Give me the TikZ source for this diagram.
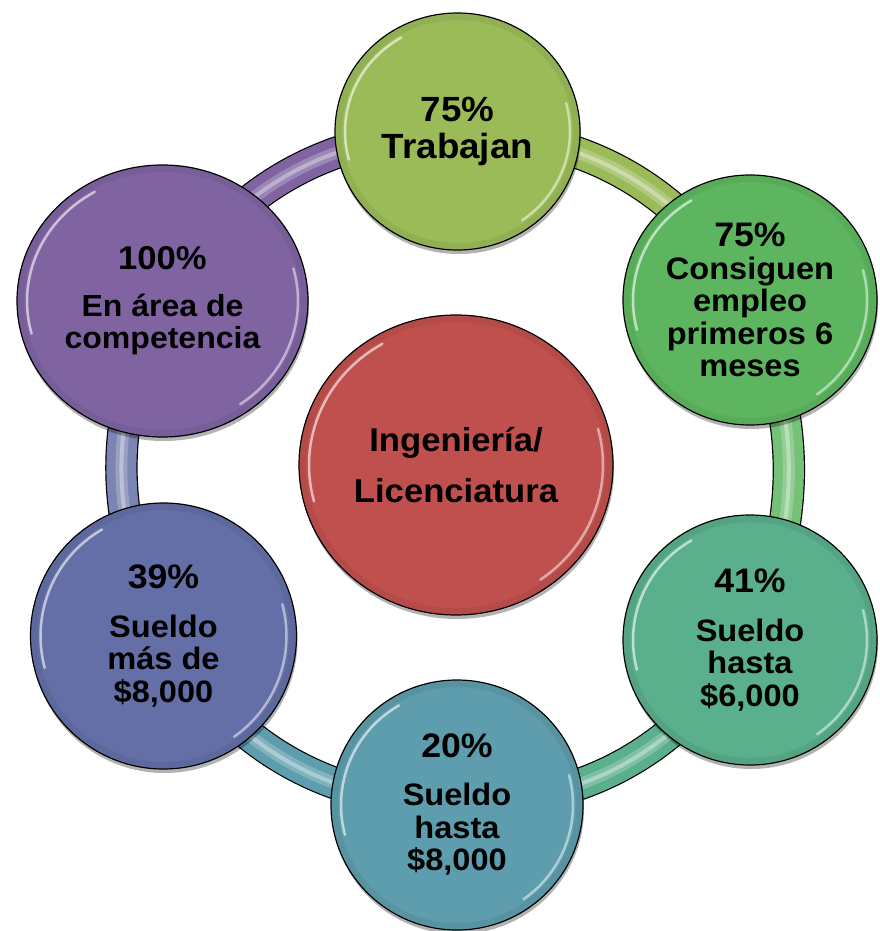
\documentclass[tikz,border=0pt]{standalone}
\usepackage{fontspec}
\setmainfont{Liberation Sans}[FakeStretch=1.05]
\usetikzlibrary{shapes.geometric,shadows}
\pgfdeclarelayer{bg}
\pgfsetlayers{bg,main}
\definecolor{cRed}{HTML}{C0504D}
\definecolor{cTop}{HTML}{9BBB59}
\definecolor{cUR}{HTML}{5DB65F}
\definecolor{cLR}{HTML}{5AAF8C}
\definecolor{cBot}{HTML}{5E9DAD}
\definecolor{cLL}{HTML}{636FA6}
\definecolor{cUL}{HTML}{8064A2}
\newcommand\glow[4]{%
  \draw[black,opacity=.06,line width=6pt] (#1,#2) ellipse [x radius=#3-4, y radius=#4-4];
  \draw[white,opacity=.6,line width=2.5pt,line cap=round]
    plot[domain=165:240,samples=30] ({#1+(#3-10)*cos(\x)},{#2+(#4-10)*sin(\x)});
  \draw[white,opacity=.5,line width=2.5pt,line cap=round]
    plot[domain=-15:55,samples=30] ({#1+(#3-10)*cos(\x)},{#2+(#4-10)*sin(\x)});
}
\tikzset{
  bub/.style={ellipse, draw=black, line width=1.2pt, inner sep=0pt, align=center,
    font=\bfseries\fontsize{31}{32.5}\selectfont,
    drop shadow={shadow xshift=1pt, shadow yshift=-4pt, opacity=.3, fill=black}},
  tube/.style={draw=black, line width=1.2pt, double=#1, double distance=30pt},
  streak/.style={white, opacity=.35, line width=4pt},
  streakb/.style={white, opacity=.22, line width=12pt},
}
\begin{document}
\begin{tikzpicture}[x=1pt,y=-1pt]
\useasboundingbox (0,0) rectangle (879,931);

\node[bub, fill=cTop, minimum width=245, minimum height=237,
      font=\bfseries\fontsize{35}{37}\selectfont] (top) at (457.5,131.5)
      {75\%\\Trabajan};
\node[bub, fill=cUR, minimum width=254, minimum height=250] (ur) at (750,300)
      {{\fontsize{34}{34}\selectfont 75\%}\\Consiguen\\empleo\\primeros 6\\meses};
\node[bub, fill=cLR, minimum width=254, minimum height=250] (lr) at (750,640)
      {{\fontsize{34}{34}\selectfont 41\%}\\[16.5pt]Sueldo\\hasta\\\$6,000};
\node[bub, fill=cBot, minimum width=252, minimum height=250] (bot) at (457,805)
      {{\fontsize{34}{34}\selectfont 20\%}\\[15.5pt]Sueldo\\hasta\\\$8,000};
\node[bub, fill=cLL, minimum width=266, minimum height=266] (ll) at (163.5,636)
      {{\fontsize{34}{34}\selectfont 39\%}\\[16.5pt]Sueldo\\más de\\\$8,000};
\node[bub, fill=cUL, minimum width=291, minimum height=272,
      font=\bfseries\fontsize{30.5}{32}\selectfont] (ul) at (162.5,301)
      {{\fontsize{33}{33}\selectfont 100\%}\\[15pt]En área de\\competencia};
\node[bub, fill=cRed, minimum width=314, minimum height=300,
      font=\bfseries\fontsize{33}{51}\selectfont] (mid) at (456,465)
      {Ingeniería/\\Licenciatura};

\glow{457.5}{131.5}{122.5}{118.5}
\glow{750}{300}{127}{125}
\glow{750}{640}{127}{125}
\glow{457}{805}{126}{125}
\glow{163.5}{636}{133}{133}
\glow{162.5}{301}{145.5}{136}
\glow{456}{465}{157}{150}

\begin{pgfonlayer}{bg}
  \draw[tube=cTop] (top.center) to[bend left=28] (ur.center);
  \draw[tube=cUR!85!white] (ur.center) to[bend left=23] (lr.center);
  \draw[tube=cLR] (lr.center) to[bend left=28] (bot.center);
  \draw[tube=cBot] (bot.center) to[bend left=28] (ll.center);
  \draw[tube=cLL!85!white] (ll.center) to[bend left=25] (ul.center);
  \draw[tube=cUL] (ul.center) to[bend left=28] (top.center);
  \foreach \a/\b/\c in {top/ur/28, ur/lr/23, lr/bot/28, bot/ll/28, ll/ul/25, ul/top/28}{
    \draw[streakb] (\a.center) to[bend left=\c] (\b.center);
    \draw[streak] (\a.center) to[bend left=\c] (\b.center);
  }
\end{pgfonlayer}
\end{tikzpicture}
\end{document}
